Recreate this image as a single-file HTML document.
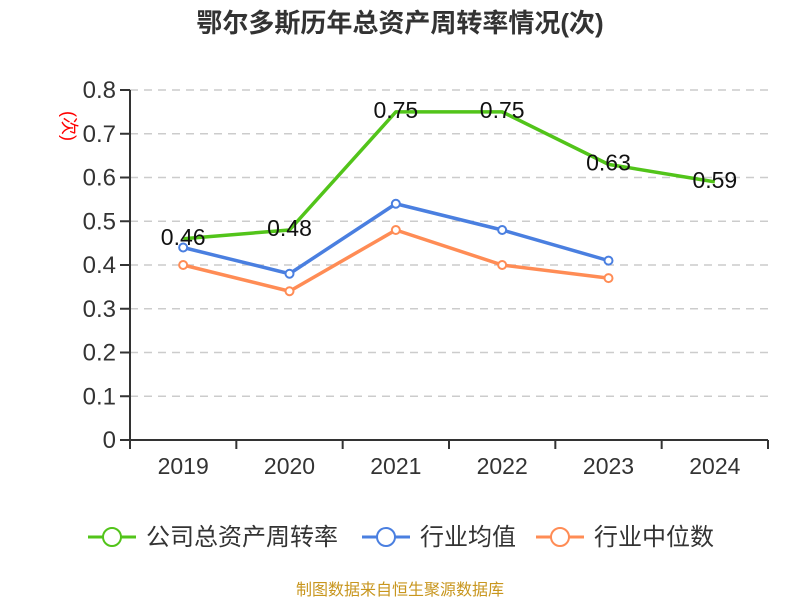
<!DOCTYPE html>
<html><head><meta charset="utf-8"><style>
body{margin:0;background:#fff;width:800px;height:600px;overflow:hidden;font-family:"Liberation Sans","Noto Sans CJK SC",sans-serif}
</style></head><body>
<svg id="chart" width="800" height="600" xmlns="http://www.w3.org/2000/svg" font-family="Liberation Sans, Noto Sans CJK SC, sans-serif">
<text x="400" y="32" text-anchor="middle" font-size="26" font-weight="bold" fill="#333">鄂尔多斯历年总资产周转率情况(次)</text>
<text transform="translate(63,126) rotate(90)" text-anchor="middle" font-size="18" fill="#f00">(次)</text>
<g id="grid"></g><g id="axes"></g><g id="series"></g>
<g>
<g><line x1="88" y1="537" x2="136" y2="537" stroke="#52c41a" stroke-width="3"/><circle cx="112" cy="537" r="9" fill="#fff" stroke="#52c41a" stroke-width="2"/><text x="146" y="545" font-size="24" fill="#333">公司总资产周转率</text></g>
<g><line x1="362" y1="537" x2="410" y2="537" stroke="#4a7fe0" stroke-width="3"/><circle cx="386" cy="537" r="9" fill="#fff" stroke="#4a7fe0" stroke-width="2"/><text x="420" y="545" font-size="24" fill="#333">行业均值</text></g>
<g><line x1="536" y1="537" x2="584" y2="537" stroke="#ff8c55" stroke-width="3"/><circle cx="560" cy="537" r="9" fill="#fff" stroke="#ff8c55" stroke-width="2"/><text x="594" y="545" font-size="24" fill="#333">行业中位数</text></g>
</g>
<text x="400" y="595" text-anchor="middle" font-size="16" fill="#c8961e">制图数据来自恒生聚源数据库</text>
</svg>
<script>
const categories=["2019","2020","2021","2022","2023","2024"];
const companyValues=[0.46,0.48,0.75,0.75,0.63,0.59];
const industryAvg=[0.44,0.38,0.54,0.48,0.41];
const industryMedian=[0.40,0.34,0.48,0.40,0.37];
const yTicks=[0,0.1,0.2,0.3,0.4,0.5,0.6,0.7,0.8];
const NS="http://www.w3.org/2000/svg";
const x0=130,x1=768,y0=440,y1=90,yMax=0.8;
const bw=(x1-x0)/categories.length;
const xs=i=>x0+bw*(i+0.5);
const ys=v=>y0-(v/yMax)*(y0-y1);
function mk(t,a,p){const e=document.createElementNS(NS,t);for(const k in a)e.setAttribute(k,a[k]);p.appendChild(e);return e;}
const grid=document.getElementById('grid'),axes=document.getElementById('axes'),ser=document.getElementById('series');
yTicks.forEach(v=>{
 if(v>0){const g=mk('line',{x1:x0,x2:x1,y1:ys(v),y2:ys(v),stroke:'#ccc','stroke-dasharray':'8,6','stroke-width':1.5},grid);
 
 }
 const tk=mk('line',{x1:x0-10,x2:x0,y1:ys(v),y2:ys(v),stroke:'#333','stroke-width':2},axes);
 
 
 const t=mk('text',{x:x0-14,y:ys(v)+8,'text-anchor':'end','font-size':24,fill:'#333'},axes);
 
 
 t.textContent=String(v);
});
const ya=mk('line',{x1:x0,x2:x0,y1:y1,y2:y0,stroke:'#333','stroke-width':2},axes);


const xa=mk('line',{x1:x0,x2:x1,y1:y0,y2:y0,stroke:'#333','stroke-width':2},axes);


for(let i=0;i<=categories.length;i++){const tk=mk('line',{x1:x0+bw*i,x2:x0+bw*i,y1:y0,y2:y0+9,stroke:'#333','stroke-width':2},axes);
 
 }
categories.forEach((c,i)=>{const t=mk('text',{x:xs(i),y:y0+34,'text-anchor':'middle','font-size':23,fill:'#333'},axes);
 
 
 t.textContent=c;});
function line(vals,color,name,markers,labels){
 const p=mk('polyline',{points:vals.map((v,i)=>xs(i)+','+ys(v)).join(' '),fill:'none',stroke:color,'stroke-width':3.5,'stroke-linejoin':'round'},ser);
 
 
 vals.forEach((v,i)=>{
  if(markers){const c=mk('circle',{cx:xs(i),cy:ys(v),r:4,fill:'#fff',stroke:color,'stroke-width':2},ser);
   
   }
  if(labels){const t=mk('text',{x:xs(i),y:ys(v)+6,'text-anchor':'middle','font-size':23,fill:'#111'},ser);
   
   
   t.textContent=v.toFixed(2);}
 });
}
line(industryMedian,'#ff8c55','industry-median',true,false);
line(industryAvg,'#4a7fe0','industry-avg',true,false);
line(companyValues,'#52c41a','company',false,true);
</script>
</body></html>
